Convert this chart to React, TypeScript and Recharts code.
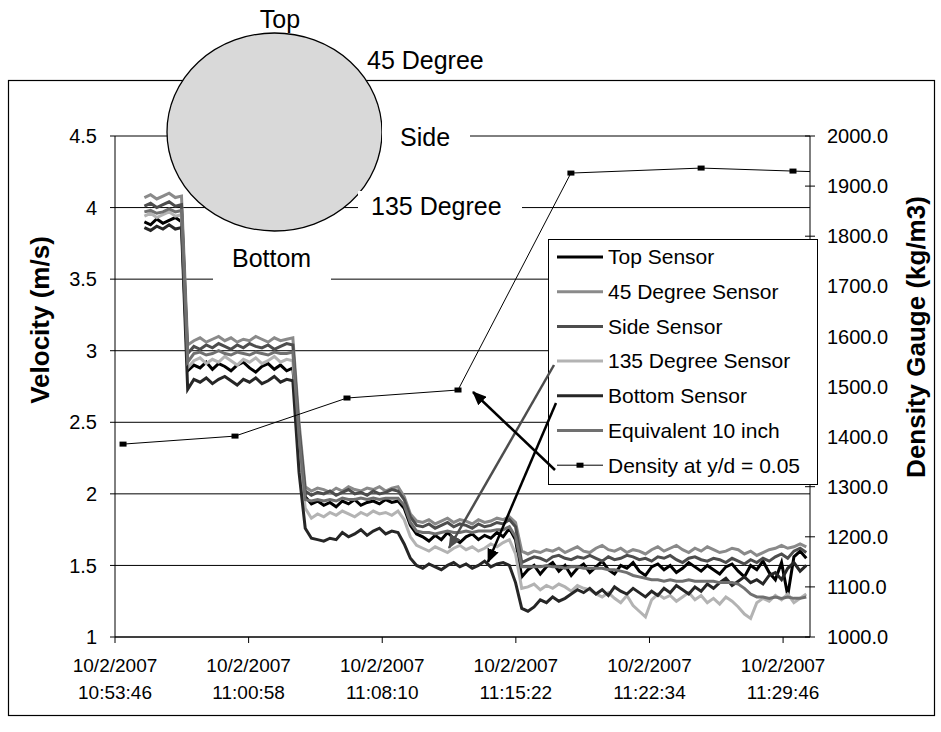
import React from "react"
import { LineChart, Line, XAxis, YAxis, CartesianGrid, Legend } from "recharts"

const FONT = '"Liberation Sans", Arial, sans-serif'

// sensor samples: one every 20 s, first one 95 s after 10:53:46
const START_SECONDS = 95
const STEP_SECONDS = 20

const topSensor = [
  3.90, 3.88, 3.92, 3.89, 3.91, 3.93, 3.90,
  2.86,
  2.90, 2.88, 2.92, 2.87, 2.91, 2.89, 2.86, 2.90, 2.92, 2.88, 2.85, 2.89, 2.91, 2.87, 2.90, 2.86, 2.88,
  2.35,
  1.98, 1.93, 1.95, 1.92, 1.94, 1.91, 1.95, 1.93, 1.96, 1.92, 1.94, 1.95, 1.93, 1.96, 1.94, 1.95,
  1.90, 1.78,
  1.72, 1.70, 1.67, 1.71, 1.68, 1.73, 1.69, 1.66, 1.70, 1.72, 1.68, 1.71, 1.69, 1.73, 1.70, 1.76,
  1.68, 1.42,
  1.47, 1.50, 1.44, 1.49, 1.52, 1.46, 1.50, 1.43, 1.48, 1.51,
  1.45, 1.49, 1.53, 1.47, 1.44, 1.50, 1.48, 1.52, 1.46, 1.43,
  1.49, 1.51, 1.47, 1.50, 1.45, 1.48, 1.52, 1.49, 1.46, 1.50,
  1.47, 1.44, 1.49, 1.51, 1.46, 1.42, 1.50, 1.47, 1.53, 1.45,
  1.40, 1.52, 1.29, 1.56, 1.60, 1.55,
]

const deg45Sensor = [
  4.07, 4.09, 4.06, 4.08, 4.10, 4.07, 4.08,
  3.04,
  3.07, 3.09, 3.06, 3.08, 3.10, 3.07, 3.09, 3.06, 3.08, 3.07, 3.10, 3.08, 3.06, 3.09, 3.07, 3.08, 3.09,
  2.50,
  2.05, 2.02, 2.04, 2.03, 2.01, 2.04, 2.02, 2.05, 2.03, 2.02, 2.04, 2.03, 2.05, 2.02, 2.04, 2.05,
  1.98, 1.86,
  1.81, 1.80, 1.82, 1.79, 1.81, 1.83, 1.80, 1.82, 1.81, 1.79, 1.82, 1.80, 1.81, 1.83, 1.82, 1.84,
  1.80, 1.60,
  1.58, 1.60, 1.59, 1.61, 1.60, 1.62, 1.59, 1.61, 1.63, 1.60,
  1.59, 1.62, 1.64, 1.61, 1.60, 1.62, 1.59, 1.61, 1.60, 1.58,
  1.61, 1.63, 1.60, 1.62, 1.64, 1.61, 1.59, 1.62, 1.60, 1.63,
  1.61, 1.59, 1.60, 1.62, 1.61, 1.58, 1.60, 1.57, 1.59, 1.61,
  1.62, 1.64, 1.62, 1.63, 1.65, 1.63,
]

const sideSensor = [
  4.01, 4.03, 4.00, 4.02, 4.04, 4.01, 4.02,
  2.98,
  3.03, 3.01, 3.04, 3.02, 3.05, 3.03, 3.01, 3.04, 3.02, 3.05, 3.03, 3.02, 3.04, 3.01, 3.03, 3.05, 3.04,
  2.45,
  2.02, 1.99, 2.01, 2.00, 2.02, 1.99, 2.01, 2.03, 2.00, 2.01, 1.99, 2.02, 2.00, 2.01, 2.03, 2.02,
  1.96, 1.84,
  1.78, 1.77, 1.79, 1.76, 1.78, 1.80, 1.77, 1.79, 1.78, 1.76, 1.79, 1.77, 1.78, 1.80, 1.79, 1.82,
  1.77, 1.52,
  1.54, 1.56, 1.55, 1.53, 1.56, 1.57, 1.55, 1.54, 1.56, 1.55,
  1.57, 1.55, 1.53, 1.56, 1.54, 1.55, 1.57, 1.56, 1.54, 1.55,
  1.53, 1.56, 1.55, 1.57, 1.54, 1.52, 1.55, 1.56, 1.54, 1.53,
  1.55, 1.54, 1.52, 1.55, 1.53, 1.51, 1.54, 1.52, 1.55, 1.53,
  1.56, 1.58, 1.55, 1.60, 1.62, 1.59,
]

const deg135Sensor = [
  3.94, 3.96, 3.93, 3.95, 3.97, 3.94, 3.95,
  2.88,
  2.93, 2.95, 2.91, 2.94, 2.92, 2.96, 2.93, 2.90, 2.94, 2.92, 2.95, 2.91, 2.93, 2.96, 2.92, 2.94, 2.93,
  2.30,
  1.90, 1.83, 1.86, 1.84, 1.87, 1.85, 1.88, 1.86, 1.84, 1.87, 1.85, 1.88, 1.86, 1.87, 1.85, 1.88,
  1.82, 1.70,
  1.64, 1.62, 1.60, 1.63, 1.61, 1.59, 1.62, 1.64, 1.61, 1.63, 1.60, 1.62, 1.65, 1.63, 1.66, 1.68,
  1.58, 1.34,
  1.35, 1.37, 1.33, 1.36, 1.34, 1.37, 1.35, 1.32, 1.36, 1.34,
  1.33, 1.30, 1.28, 1.31, 1.27, 1.24, 1.29, 1.22, 1.18, 1.14,
  1.26, 1.30, 1.27, 1.29, 1.25, 1.28, 1.31, 1.26, 1.29, 1.24,
  1.27, 1.23, 1.28, 1.25, 1.21, 1.16, 1.13, 1.24, 1.27, 1.25,
  1.29, 1.26, 1.30, 1.24, 1.27, 1.30,
]

const bottomSensor = [
  3.86, 3.84, 3.87, 3.85, 3.88, 3.85, 3.86,
  2.73,
  2.80, 2.78, 2.81, 2.77, 2.80, 2.82, 2.79, 2.76, 2.80, 2.78, 2.81, 2.77, 2.79, 2.82, 2.78, 2.80, 2.79,
  2.15,
  1.76, 1.69, 1.68, 1.67, 1.69, 1.68, 1.73, 1.70, 1.72, 1.75, 1.71, 1.74, 1.76, 1.72, 1.74, 1.73,
  1.65, 1.55,
  1.50, 1.48, 1.51, 1.49, 1.47, 1.50, 1.52, 1.49, 1.51, 1.48, 1.50, 1.53, 1.49, 1.51, 1.52, 1.50,
  1.38, 1.20,
  1.18, 1.21, 1.26, 1.24, 1.28, 1.25, 1.27, 1.30, 1.33, 1.31,
  1.34, 1.30, 1.33, 1.29, 1.35, 1.32, 1.30, 1.34, 1.31, 1.28,
  1.32, 1.29, 1.34, 1.31, 1.36, 1.33, 1.30, 1.35, 1.32, 1.37,
  1.34, 1.38, 1.41, 1.36, 1.39, 1.42, 1.38, 1.40, 1.37, 1.43,
  1.45, 1.40, 1.48, 1.52, 1.46, 1.50,
]

const equivalent10 = [
  3.97, 3.98, 3.96, 3.97, 3.99, 3.97, 3.98,
  2.92,
  2.98, 2.99, 2.97, 2.98, 3.00, 2.98, 2.97, 2.99, 2.98, 2.97, 2.99, 2.98, 2.97, 2.99, 2.98, 2.98, 2.99,
  2.40,
  1.96, 1.95, 1.96, 1.95, 1.96, 1.95, 1.97, 1.96, 1.96, 1.97, 1.96, 1.97, 1.96, 1.97, 1.97, 1.97,
  1.92, 1.80,
  1.74, 1.73, 1.73, 1.72, 1.73, 1.74, 1.73, 1.73, 1.74, 1.73, 1.74, 1.74, 1.74, 1.75, 1.75, 1.77,
  1.70, 1.49,
  1.49, 1.49, 1.49, 1.50, 1.49, 1.49, 1.48, 1.49, 1.49, 1.48,
  1.48, 1.48, 1.48, 1.47, 1.47, 1.46, 1.45, 1.43, 1.42, 1.41,
  1.40, 1.40, 1.39, 1.40, 1.39, 1.39, 1.40, 1.39, 1.39, 1.39,
  1.39, 1.38, 1.38, 1.38, 1.37, 1.34, 1.30, 1.28, 1.28, 1.27,
  1.28, 1.27, 1.28, 1.27, 1.27, 1.28,
]

// density gauge readings (seconds after 10:53:46, kg/m3)
const densityTimes = [26, 388, 750, 1109, 1474, 1895, 2192, 2247]
const densityValues = [1385, 1401, 1477, 1493, 1926, 1936, 1930, 1929]

const timeTicks = [0, 432, 864, 1296, 1728, 2160]
const dateLabel = "10/2/2007"
const timeLabels = ["10:53:46", "11:00:58", "11:08:10", "11:15:22", "11:22:34", "11:29:46"]
const velocityTicks = [1, 1.5, 2, 2.5, 3, 3.5, 4, 4.5]
const densityTicks = [1000, 1100, 1200, 1300, 1400, 1500, 1600, 1700, 1800, 1900, 2000]

const series = [
  { key: "top", name: "Top Sensor", color: "#000000", values: topSensor },
  { key: "deg45", name: "45 Degree Sensor", color: "#8a8a8a", values: deg45Sensor },
  { key: "side", name: "Side Sensor", color: "#4d4d4d", values: sideSensor },
  { key: "deg135", name: "135 Degree Sensor", color: "#b3b3b3", values: deg135Sensor },
  { key: "bottom", name: "Bottom Sensor", color: "#262626", values: bottomSensor },
  { key: "equiv", name: "Equivalent 10 inch", color: "#707070", values: equivalent10 },
]

const sensorData = topSensor.map((_, i) => {
  const row: Record<string, number> = { t: START_SECONDS + i * STEP_SECONDS }
  series.forEach((s) => {
    row[s.key] = s.values[i]
  })
  return row
})

const densityData = densityTimes.map((t, i) => ({ t, density: densityValues[i] }))

function TimeTick(props: any) {
  const { x, y, payload } = props
  const idx = timeTicks.indexOf(payload.value)
  return (
    <text x={x} y={y} textAnchor="middle" fontFamily={FONT} fontSize={19} fill="#000">
      <tspan x={x} dy={27}>{dateLabel}</tspan>
      <tspan x={x} dy={27}>{timeLabels[idx]}</tspan>
    </text>
  )
}

// right axis ticks cross the axis line, Excel style
function DensityTick(props: any) {
  const { x, y, payload } = props
  const axisX = x - 17
  return (
    <g>
      <line x1={axisX - 5} x2={axisX + 5} y1={y} y2={y} stroke="#000" />
      <text x={x} y={y} dy="0.355em" textAnchor="start" fontFamily={FONT} fontSize={20} fill="#000">
        {payload.value.toFixed(1)}
      </text>
    </g>
  )
}

function DensityDot(props: any) {
  const { cx, cy, index } = props
  if (index === densityValues.length - 1) return <g key={`dd-${index}`} />
  return <rect key={`dd-${index}`} x={cx - 3.5} y={cy - 2.5} width={7} height={5} fill="#000" />
}

function LegendBox() {
  const rows = [
    ...series.map((s) => ({ name: s.name, color: s.color, marker: false })),
    { name: "Density at y/d = 0.05", color: "#000000", marker: true },
  ]
  return (
    <svg width={270} height={246} style={{ display: "block" }}>
      <rect x={0.5} y={0.5} width={269} height={245} fill="#fff" stroke="#000" strokeWidth={1} />
      {rows.map((r, i) => {
        const cy = 18 + i * 34.7
        return (
          <g key={r.name}>
            <line
              x1={9}
              x2={55}
              y1={cy}
              y2={cy}
              stroke={r.color}
              strokeWidth={r.marker ? 1 : 3}
            />
            {r.marker && <rect x={28.5} y={cy - 2.5} width={7} height={5} fill="#000" />}
            <text x={60} y={cy} dy="0.35em" fontFamily={FONT} fontSize={21} fill="#000">
              {r.name}
            </text>
          </g>
        )
      })}
    </svg>
  )
}

function Annotations() {
  return (
    <svg
      width={941}
      height={732}
      style={{ position: "absolute", left: 0, top: 0, pointerEvents: "none" }}
    >
      <defs>
        <marker id="headBlack" markerWidth="14" markerHeight="12" refX="13" refY="6" orient="auto" markerUnits="userSpaceOnUse">
          <path d="M0,0 L14,6 L0,12 z" fill="#000" />
        </marker>
        <marker id="headGray" markerWidth="14" markerHeight="12" refX="13" refY="6" orient="auto" markerUnits="userSpaceOnUse">
          <path d="M0,0 L14,6 L0,12 z" fill="#4d4d4d" />
        </marker>
      </defs>
      <rect x={8.5} y={80.5} width={926} height={635} fill="none" stroke="#000" strokeWidth={1.2} />

      <ellipse cx={274.5} cy={132} rx={107.5} ry={99} fill="#d9d9d9" stroke="#000" strokeWidth={1.3} />

      <text x={280} y={28} textAnchor="middle" fontFamily={FONT} fontSize={25}>Top</text>
      <text x={367} y={69} fontFamily={FONT} fontSize={25}>45 Degree</text>

      <rect x={382} y={120} width={88} height={32} fill="#fff" />
      <text x={400} y={146} fontFamily={FONT} fontSize={25}>Side</text>

      <rect x={358} y={191} width={164} height={32} fill="#fff" />
      <text x={371} y={215} fontFamily={FONT} fontSize={25}>135 Degree</text>

      <rect x={213} y={238} width={118} height={45} fill="#fff" />
      <text x={232} y={267} fontFamily={FONT} fontSize={25}>Bottom</text>

      <line x1={554} y1={365} x2={449} y2={548} stroke="#4d4d4d" strokeWidth={2.5} markerEnd="url(#headGray)" />
      <line x1={556} y1={403} x2={488} y2={562} stroke="#000" strokeWidth={2.5} markerEnd="url(#headBlack)" />
      <line x1={555} y1={470} x2={473} y2={392} stroke="#000" strokeWidth={2.5} markerEnd="url(#headBlack)" />

      <text
        x={40}
        y={320}
        transform="rotate(-90 40 320)"
        textAnchor="middle"
        dominantBaseline="central"
        fontFamily={FONT}
        fontSize={26}
        fontWeight="bold"
      >
        Velocity (m/s)
      </text>
      <text
        x={916}
        y={337}
        transform="rotate(-90 916 337)"
        textAnchor="middle"
        dominantBaseline="central"
        fontFamily={FONT}
        fontSize={26}
        fontWeight="bold"
      >
        Density Gauge (kg/m3)
      </text>
    </svg>
  )
}

export default function App() {
  const tickStyle = { fontFamily: FONT, fontSize: 20, fill: "#000" }
  return (
    <div style={{ position: "absolute", left: 0, top: 0, width: 941, height: 732, background: "#fff" }}>
      <LineChart
        width={941}
        height={732}
        data={sensorData}
        margin={{ top: 136, right: 71, bottom: 35, left: 55 }}
      >
        <CartesianGrid yAxisId="left" vertical={false} stroke="#000" strokeWidth={1} />
        <XAxis
          dataKey="t"
          type="number"
          domain={[0, 2247]}
          ticks={timeTicks}
          interval={0}
          allowDataOverflow
          height={60}
          tickSize={6}
          tickMargin={2}
          stroke="#000"
          tick={<TimeTick />}
        />
        <YAxis
          yAxisId="left"
          domain={[1, 4.5]}
          ticks={velocityTicks}
          interval={0}
          width={60}
          tickSize={5}
          tickMargin={13}
          stroke="#000"
          tick={tickStyle}
        />
        <YAxis
          yAxisId="right"
          orientation="right"
          domain={[1000, 2000]}
          ticks={densityTicks}
          interval={0}
          width={60}
          tickSize={5}
          tickMargin={12}
          tickLine={false}
          stroke="#000"
          tick={<DensityTick />}
        />
        {series.map((s) => (
          <Line
            key={s.key}
            yAxisId="left"
            type="linear"
            dataKey={s.key}
            name={s.name}
            stroke={s.color}
            strokeWidth={3}
            dot={false}
            activeDot={false}
            isAnimationActive={false}
          />
        ))}
        <Line
          yAxisId="right"
          type="linear"
          data={densityData}
          dataKey="density"
          name="Density at y/d = 0.05"
          stroke="#000"
          strokeWidth={1}
          dot={<DensityDot />}
          activeDot={false}
          isAnimationActive={false}
        />
        <Legend
          layout="vertical"
          align="center"
          verticalAlign="middle"
          content={() => <LegendBox />}
          wrapperStyle={{ left: 548, top: 239, width: 270, height: 246 }}
        />
      </LineChart>
      <Annotations />
    </div>
  )
}
